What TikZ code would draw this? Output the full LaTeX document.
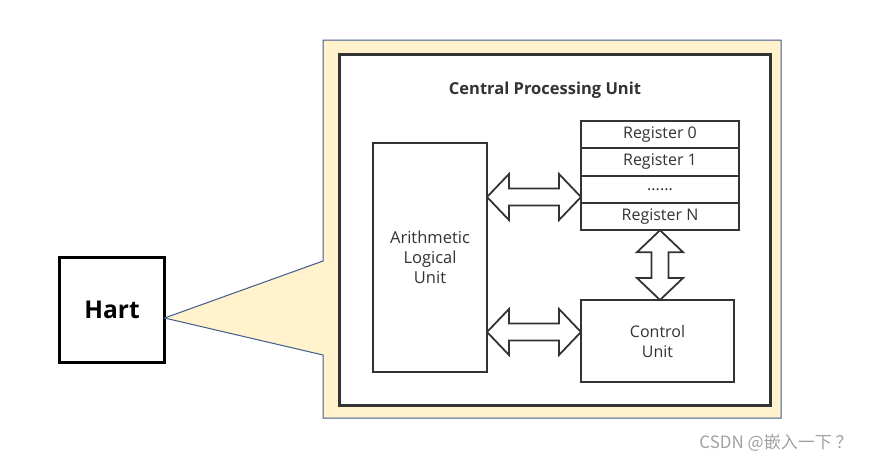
\documentclass[tikz,border=0pt]{standalone}
\usepackage{fontspec}
\setmainfont{Open Sans}
\newfontfamily\cjk{Noto Sans CJK SC}
\usetikzlibrary{calc}
\definecolor{calloutfill}{HTML}{FFF2CC}
\definecolor{calloutline}{HTML}{3E5A8C}
\definecolor{boxline}{HTML}{333333}
\definecolor{txt}{HTML}{333333}
\definecolor{wm}{HTML}{A0A0A0}
\tikzset{
  box/.style={draw=boxline, line width=2pt, fill=white, inner sep=0pt, outer sep=0pt, text=txt, align=center, font=\fontsize{16}{20}\selectfont},
  regrow/.style={box, minimum width=158pt, minimum height=27.3pt, anchor=north west},
  harrow/.style={draw=boxline, line width=1.8pt, fill=white, line join=miter, to path={
    let \p1=(\tikztostart), \p2=(\tikztotarget) in
    (\x1,\y1) -- (\x1+22pt,\y1+23pt) -- (\x1+22pt,\y1+8.5pt) -- (\x2-22pt,\y1+8.5pt) -- (\x2-22pt,\y1+23pt)
    -- (\x2,\y2) -- (\x2-22pt,\y1-23pt) -- (\x2-22pt,\y1-8.5pt) -- (\x1+22pt,\y1-8.5pt) -- (\x1+22pt,\y1-23pt) -- cycle}},
  varrow/.style={draw=boxline, line width=1.8pt, fill=white, line join=miter, to path={
    let \p1=(\tikztostart), \p2=(\tikztotarget) in
    (\x1,\y1) -- (\x1+23pt,\y1-22pt) -- (\x1+8.5pt,\y1-22pt) -- (\x1+8.5pt,\y2+22pt) -- (\x1+23pt,\y2+22pt)
    -- (\x2,\y2) -- (\x1-23pt,\y2+22pt) -- (\x1-8.5pt,\y2+22pt) -- (\x1-8.5pt,\y1-22pt) -- (\x1-23pt,\y1-22pt) -- cycle}},
}
\begin{document}
\begin{tikzpicture}[x=1pt,y=-1pt]
\useasboundingbox (0,0) rectangle (875,466);
% Hart
\node[draw=black, line width=2.6pt, minimum width=105pt, minimum height=105pt, inner sep=0pt, outer sep=0pt,
  font=\fontsize{24.5}{28}\selectfont\bfseries] (hart) at (112,310) {Hart};
% callout
\draw[calloutline, fill=calloutfill, line width=1pt, line join=miter]
  (323,40) -- (781,40) -- (781,418) -- (323,418) -- (323,355) -- (hart.east |- 0,318) -- (323,261) -- cycle;
% CPU box
\node[draw=boxline, line width=3pt, fill=white, minimum width=431pt, minimum height=351pt, inner sep=0pt, outer sep=0pt, anchor=north west] (cpu) at (339,54) {};
\node[text=txt, font=\fontsize{16.5}{20}\selectfont\bfseries] (title) at (545,90) {Central Processing Unit};
% ALU
\node[box, minimum width=114pt, minimum height=229pt, anchor=north west] (alu) at (373,143) {};
\node[text=txt, align=center, font=\fontsize{16.5}{20}\selectfont] (alut) at (alu.center) {Arithmetic\\Logical\\Unit};
% registers
\node[regrow] (reg0) at (581,121) {Register 0};
\node[regrow] (reg1) at (reg0.south west) {Register 1};
\node[regrow] (regd) at (reg1.south west) {......};
\node[regrow] (regN) at (regd.south west) {Register N};
% control unit
\node[box, minimum width=153pt, minimum height=82pt, anchor=north west] (cu) at (581,300) {Control\\Unit};
% arrows
\draw[harrow] (alu.east |- 0,197) to (reg0.west |- 0,197);
\draw[harrow] (alu.east |- 0,332) to (cu.west |- 0,332);
\draw[varrow] (regN.south) to (regN.south |- cu.north);
% watermark
\node[text=wm, font=\cjk\fontsize{17}{20}\selectfont] (wmk) at (776,443) {CSDN @嵌入一下 ？};
\end{tikzpicture}
\end{document}
